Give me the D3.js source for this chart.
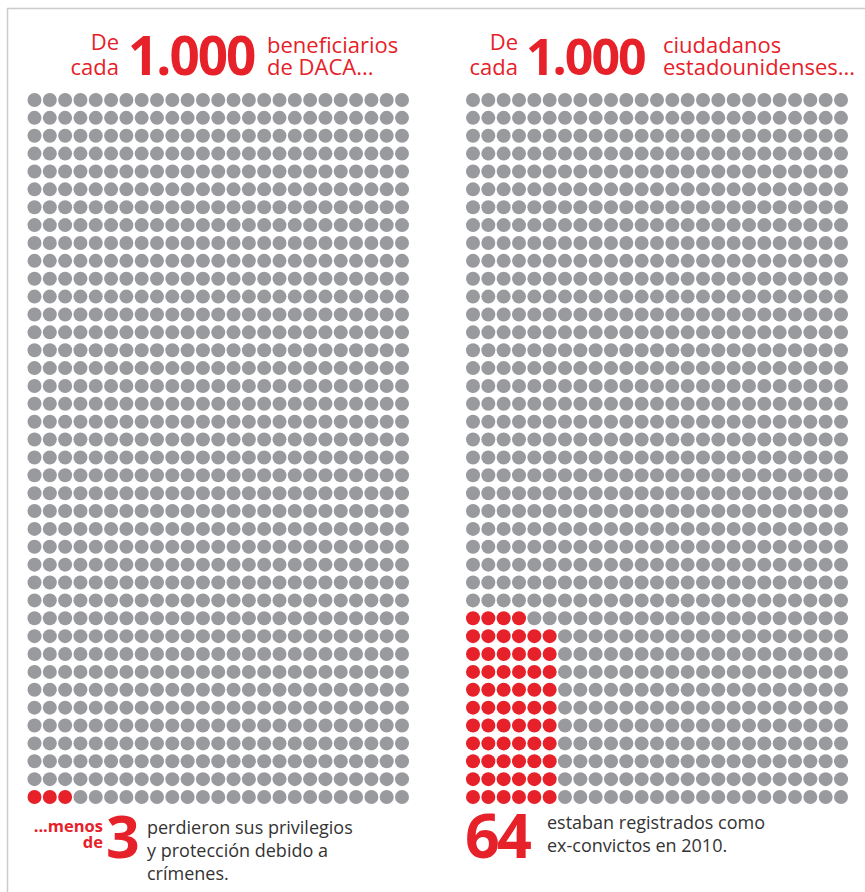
<!DOCTYPE html>
<html>
<head>
<meta charset="utf-8">
<script src="https://cdn.jsdelivr.net/npm/d3@7"></script>
<style>
	body { margin: 0; background: #fff; }
	svg { display: block; }
	text { font-family: "Open Sans", "Noto Sans", sans-serif; }
</style>
</head>
<body>
<div id="chart"></div>
<script>

// data
let panels = ['DACA', 'ciudadanos']
let totals = [1000, 1000]
let highlighted = [3, 64]
let bigNumbers = ['3', '64']
let titleLines = [['beneficiarios', 'de DACA...'], ['ciudadanos', 'estadounidenses...']]
let noteLines = [['perdieron sus privilegios', 'y protección debido a', 'crímenes.'], ['estaban registrados como', 'ex-convictos en 2010.']]
let noteLead = [['...menos', 'de'], []]

let width = 865
let height = 892
let cols = 25
let rows = 40
let blockWidth = 6		// red dots fill a block this wide, from the bottom up

let red = '#e62129'
let grey = '#989a9d'
let ink = '#333333'

let svg = d3.select('#chart').append('svg')
	.attr('width', width).attr('height', height)

// frame
svg.append('line').attr('x1', 7).attr('x2', width).attr('y1', 8.5).attr('y2', 8.5)
	.attr('stroke', '#cccccc').attr('stroke-width', 1.5)
svg.append('line').attr('x1', 7.5).attr('x2', 7.5).attr('y1', 8).attr('y2', height)
	.attr('stroke', '#cccccc').attr('stroke-width', 1.5)

let y = d3.scalePoint().domain(d3.range(rows)).range([100, 797])
let xRanges = [[34.5, 402], [473, 841]]
let left = [0, 439]

panels.forEach((p, k) => {

	let x = d3.scalePoint().domain(d3.range(cols)).range(xRanges[k])

	let dots = d3.range(totals[k]).map(i => ({ col: i % cols, row: Math.floor(i / cols), hit: false }))
	d3.range(highlighted[k]).forEach(i => {
		let r = rows - 1 - Math.floor(i / blockWidth), c = i % blockWidth
		dots[r * cols + c].hit = true
	})

	let g = svg.append('g').attr('class', 'panel-' + p)

	g.selectAll('circle')
		.data(dots)
		.enter().append('circle')
		.attr('cx', d => x(d.col))
		.attr('cy', d => y(d.row))
		.attr('r', 7)
		.attr('fill', d => d.hit ? red : grey)

	// title
	let t = svg.append('g').attr('transform', `translate(${left[k]},0)`)
	t.append('text').attr('x', k ? 79 : 119).attr('y', 50).attr('text-anchor', 'end')
		.attr('font-size', 22).attr('fill', red).text('De')
	t.append('text').attr('x', k ? 79 : 119).attr('y', 75).attr('text-anchor', 'end')
		.attr('font-size', 22).attr('fill', red).text('cada')
	t.append('text').attr('x', k ? 87 : 128).attr('y', 75)
		.attr('font-size', k ? 50 : 53).attr('font-weight', 'bold').attr('fill', red)
		.attr('letter-spacing', -2).text('1.000')
	titleLines[k].forEach((s, i) => {
		t.append('text').attr('x', k ? 224 : 267).attr('y', 53 + i * 22)
			.attr('font-size', 22).attr('fill', red).text(s)
	})

	// note
	let n = svg.append('g').attr('transform', `translate(${left[k]},0)`)
	noteLead[k].forEach((s, i) => {
		n.append('text').attr('x', 103).attr('y', 832 + i * 16).attr('text-anchor', 'end')
			.attr('font-size', 16.5).attr('font-weight', 'bold').attr('fill', red).text(s)
	})
	n.append('text').attr('x', k ? 26 : 106).attr('y', 858)
		.attr('font-size', k ? 61 : 59).attr('font-weight', 'bold').attr('fill', red)
		.attr('letter-spacing', k ? -3 : 0).text(bigNumbers[k])
	noteLines[k].forEach((s, i) => {
		n.append('text').attr('x', k ? 108 : 147).attr('y', (k ? 829 : 834) + i * 23)
			.attr('font-size', 18).attr('fill', ink).text(s)
	})
})

</script>
</body>
</html>
